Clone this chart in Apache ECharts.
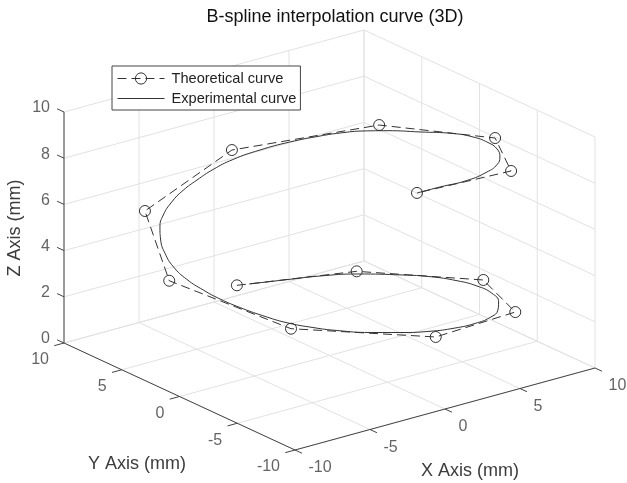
<!DOCTYPE html>
<html>
<head>
<meta charset="utf-8">
<style>html,body{margin:0;padding:0;background:#fff}#c{width:627px;height:483px}</style>
<script src="https://cdn.jsdelivr.net/npm/echarts@6/dist/echarts.min.js"></script>
</head>
<body>
<div id="c"></div>
<script>
// Values (mm)
const xTicks = [-10, -5, 0, 5, 10];
const yTicks = [-10, -5, 0, 5, 10];
const zTicks = [0, 2, 4, 6, 8, 10];

const theoX = [0.38, 5.83, 9.73, 7.75, 1.53, -5.46, -9.36, -7.83, -0.13, 7.26, 9.90, 7.17, 0.82];
const theoY = [8.51, 5.22, -0.68, -6.02, -7.21, -3.76, 1.72, 5.81, 8.28, 5.13, -1.48, -6.41, -6.51];
const theoZ = [1.0, 1.4, 1.7, 1.9, 2.2, 3.0, 4.5, 6.3, 7.0, 7.5, 8.0, 8.2, 8.4];

const expX = [0.80, 2.73, 4.08, 5.60, 7.23, 8.11, 8.77, 8.92, 8.78, 8.17, 7.27, 6.13, 4.82, 3.46, 1.91, 0.23, -1.34, -3.07, -4.12, -5.09, -5.88, -6.52, -7.00, -7.31, -7.66, -7.71, -7.47, -7.08, -6.56, -5.96, -5.06, -4.17, -3.16, -2.06, -0.84, 0.84, 2.61, 4.21, 5.11, 6.09, 6.87, 7.93, 8.96, 9.28, 9.30, 8.99, 8.28, 7.38, 6.17, 4.46, 2.53, 0.81];
const expY = [8.00, 6.97, 6.12, 4.90, 3.03, 1.83, 0.35, -1.19, -2.66, -4.03, -5.14, -5.93, -6.34, -6.37, -6.22, -5.81, -5.25, -4.63, -3.92, -2.93, -1.87, -0.71, 0.38, 1.44, 2.41, 3.51, 4.54, 5.42, 6.16, 6.65, 7.09, 7.27, 7.37, 7.41, 7.27, 7.11, 6.82, 6.28, 5.72, 4.92, 3.94, 2.46, 0.95, -0.38, -1.64, -2.83, -4.00, -4.93, -5.62, -6.11, -6.28, -6.52];
const expZ = [1.1, 1.2, 1.3, 1.4, 1.5, 1.55, 1.6, 1.7, 1.75, 1.8, 1.87, 1.93, 2.0, 2.05, 2.15, 2.3, 2.45, 2.7, 2.85, 3.0, 3.2, 3.4, 3.6, 3.8, 4.1, 4.4, 4.7, 5.0, 5.3, 5.6, 5.9, 6.2, 6.45, 6.7, 6.95, 7.1, 7.2, 7.3, 7.4, 7.5, 7.6, 7.7, 7.8, 7.9, 7.95, 8.0, 8.05, 8.1, 8.15, 8.2, 8.3, 8.4];

// Orthographic view of the 3D box onto the hidden 2D axes
const project = (x, y, z) => [
  329.5 + 15 * x - 11.55 * y,
  355.5 - 4.1 * x - 5.35 * y - 23.1 * z
];
const zip3 = (a, b, c) => a.map((v, i) => project(v, b[i], c[i]));

const FONT = '"Liberation Sans", Arial, sans-serif';
const DARK = '#333333';
const TXT = '#3c3c3c';

function segments(list) {
  const out = [];
  list.forEach(s => { out.push(project(...s[0]), project(...s[1]), ['-', '-']); });
  return out;
}
const gridSegs = [];
xTicks.forEach(x => {
  gridSegs.push([[x, -10, 0], [x, 10, 0]]);
  gridSegs.push([[x, 10, 0], [x, 10, 10]]);
});
yTicks.forEach(y => {
  gridSegs.push([[-10, y, 0], [10, y, 0]]);
  gridSegs.push([[10, y, 0], [10, y, 10]]);
});
zTicks.forEach(z => {
  gridSegs.push([[-10, 10, z], [10, 10, z]]);
  gridSegs.push([[10, 10, z], [10, -10, z]]);
});
const axisSegs = [
  [[-10, 10, 0], [-10, 10, 10]],
  [[-10, 10, 0], [-10, -10, 0]],
  [[-10, -10, 0], [10, -10, 0]]
];
zTicks.forEach(z => axisSegs.push([[-10, 10, z], [-10, 10.6, z]]));
yTicks.forEach(y => axisSegs.push([[-10, y, 0], [-10.65, y, 0]]));
xTicks.forEach(x => axisSegs.push([[x, -10, 0], [x, -10.6, 0]]));

function tickLabels(name, points, texts, position, offset) {
  return {
    name, type: 'scatter', silent: true, symbolSize: 0, z: 3,
    data: points.map((p, i) => ({ value: p, label: { formatter: String(texts[i]) } })),
    label: { show: true, position, distance: 0, offset, color: TXT, fontSize: 16, fontFamily: FONT },
    tooltip: { show: false }
  };
}

const chart = echarts.init(document.getElementById('c'), null, { renderer: 'canvas' });
chart.setOption({
  animation: false,
  backgroundColor: '#ffffff',
  title: {
    text: 'B-spline interpolation curve (3D)',
    left: 330, top: 3, textAlign: 'center',
    textStyle: { fontFamily: FONT, fontSize: 18, fontWeight: 'normal', color: '#111111' }
  },
  grid: { left: 0, right: 0, top: 0, bottom: 0, containLabel: false },
  xAxis: { type: 'value', min: 0, max: 627, show: false },
  yAxis: { type: 'value', min: 0, max: 483, inverse: true, show: false },
  legend: {
    left: 112, top: 66, orient: 'vertical',
    data: [
      { name: 'Theoretical curve', itemStyle: { color: 'rgba(255,255,255,0)', borderColor: DARK, borderWidth: 1 } },
      { name: 'Experimental curve', itemStyle: { opacity: 0 } }
    ],
    backgroundColor: '#ffffff', borderColor: '#444444', borderWidth: 1,
    padding: [5, 4, 4, 5], itemGap: 5, itemWidth: 47, itemHeight: 14,
    lineStyle: { width: 1, color: DARK },
    textStyle: { fontFamily: FONT, fontSize: 14.6, color: '#222222', padding: [0, 0, 0, 2] }
  },
  graphic: [
    { type: 'text', x: 15, y: 228, rotation: Math.PI / 2, originX: 0, originY: 0,
      style: { text: 'Z Axis (mm)', font: '18px ' + FONT, fill: TXT, textAlign: 'center', textVerticalAlign: 'middle' } },
    { type: 'text', x: 137, y: 464,
      style: { text: 'Y Axis (mm)', font: '18px ' + FONT, fill: TXT, textAlign: 'center', textVerticalAlign: 'middle' } },
    { type: 'text', x: 470, y: 471,
      style: { text: 'X Axis (mm)', font: '18px ' + FONT, fill: TXT, textAlign: 'center', textVerticalAlign: 'middle' } }
  ],
  series: [
    { name: 'gridlines', type: 'line', silent: true, symbol: 'none', z: 1,
      data: segments(gridSegs), lineStyle: { color: '#e2e2e2', width: 1 } },
    { name: 'axes', type: 'line', silent: true, symbol: 'none', z: 2,
      data: segments(axisSegs), lineStyle: { color: '#444444', width: 1 } },
    tickLabels('zLabels', zTicks.map(z => project(-10, 10, z)), zTicks, 'left', [-14, -4]),
    tickLabels('yLabels', yTicks.map(y => project(-10, y, 0)), yTicks, 'left', [-15, 17]),
    tickLabels('xLabels', xTicks.map(x => project(x, -10, 0)), xTicks, 'right', [13.5, 18]),
    { name: 'Theoretical curve', type: 'line', z: 5, data: zip3(theoX, theoY, theoZ),
      symbol: 'circle', symbolSize: 11, showSymbol: true,
      itemStyle: { color: 'rgba(255,255,255,0)', borderColor: DARK, borderWidth: 1 },
      lineStyle: { color: DARK, width: 1, type: [9, 5] } },
    { name: 'Experimental curve', type: 'line', z: 6, data: zip3(expX, expY, expZ),
      symbol: 'none', smooth: 0.5,
      itemStyle: { color: DARK },
      lineStyle: { color: DARK, width: 1 } }
  ]
});
</script>
</body>
</html>
